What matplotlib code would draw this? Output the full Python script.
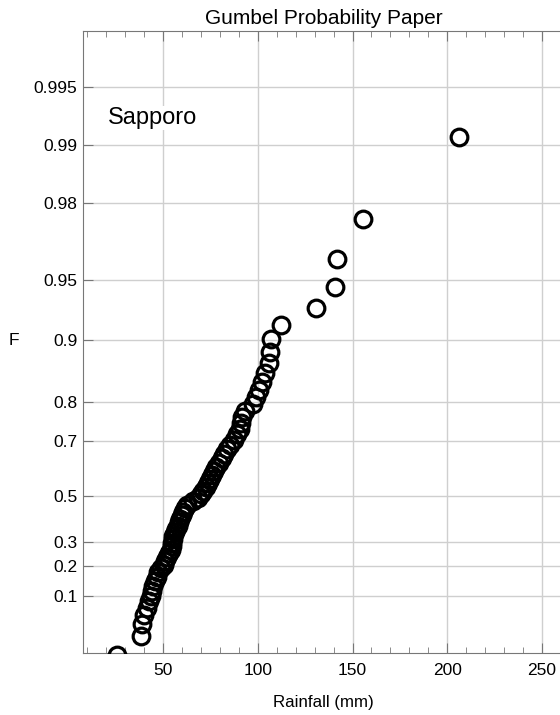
import numpy as np
import matplotlib
matplotlib.use("Agg")
import matplotlib.pyplot as plt
from matplotlib.ticker import MultipleLocator, FixedLocator

plt.rcParams['font.family'] = ['Liberation Sans', 'DejaVu Sans']

# annual maximum rainfall at Sapporo (mm), sorted
rainfall = [25.8, 38.2, 38.9, 40.0, 41.5, 42.7, 43.5, 44.1, 44.8, 45.9,
            46.8, 47.5, 48.9, 50.3, 51.3, 52.3, 53.2, 54.1, 54.6, 54.8,
            55.1, 55.4, 56.2, 57.1, 57.9, 58.5, 59.2, 59.8, 60.7, 61.6,
            62.6, 65.8, 68.7, 70.0, 71.2, 72.5, 73.6, 74.7, 75.7, 76.8,
            78.2, 79.5, 80.9, 82.4, 83.9, 85.5, 87.6, 89.2, 90.4, 91.2,
            91.7, 93.2, 97.4, 99.1, 100.8, 102.0, 103.7, 105.7, 106.3, 107.1,
            112.5, 130.5, 140.7, 141.7, 155.6, 206.3]
f_ticks = [0.1, 0.2, 0.3, 0.5, 0.7, 0.8, 0.9, 0.95, 0.98, 0.99, 0.995]
f_labels = ["0.1", "0.2", "0.3", "0.5", "0.7", "0.8", "0.9", "0.95", "0.98", "0.99", "0.995"]
x_ticks = [50, 100, 150, 200, 250]
station = "Sapporo"


def gumbel(f):
    f = np.clip(f, 1e-12, 1 - 1e-12)
    return -np.log(-np.log(f))


def gumbel_inv(y):
    return np.exp(-np.exp(-y))


# Cunnane plotting positions
x = np.sort(np.array(rainfall))
n = len(x)
F = (np.arange(1, n + 1) - 0.4) / (n + 0.2)

fig = plt.figure(figsize=(5.6, 7.15), dpi=100)
ax = fig.add_axes([83 / 560, 62 / 715, 478 / 560, 622 / 715])
ax.set_yscale('function', functions=(gumbel, gumbel_inv))

ax.plot(x, F, 'o', ms=12, mfc='none', mec='black', mew=2.3, clip_on=True, zorder=3)

ax.set_xlim(7.8, 260)
ax.set_ylim(0.0101, 0.99745)

ax.xaxis.set_major_locator(FixedLocator(x_ticks))
ax.xaxis.set_minor_locator(MultipleLocator(10))
ax.yaxis.set_major_locator(FixedLocator(f_ticks))
ax.yaxis.set_minor_locator(FixedLocator([]))
ax.set_yticklabels(f_labels)

ax.grid(True, which='major', color='#cfcfcf', lw=1)
ax.tick_params(axis='both', which='both', direction='in', colors='#777777',
               labelcolor='black', labelsize=12.5)
ax.tick_params(axis='x', which='major', length=7, top=True, pad=7)
ax.tick_params(axis='x', which='minor', length=4, top=True)
ax.tick_params(axis='y', which='major', length=7, pad=4)
for s in ['left', 'bottom', 'top']:
    ax.spines[s].set_color('#777777')
ax.spines['right'].set_visible(False)

ax.set_xlabel("Rainfall (mm)", fontsize=12.2)
ax.xaxis.set_label_coords(0.502, -0.067)
ax.set_ylabel("F", fontsize=12.5, rotation=0, va='center', ha='center')
ax.yaxis.set_label_coords(-0.144, 0.503)

fig.text(324 / 560, 1 - 18 / 715, "Gumbel Probability Paper", fontsize=15,
         ha='center', va='center')
ax.text(0.052, 0.86, station, transform=ax.transAxes, fontsize=17,
        ha='left', va='center', zorder=4,
        bbox=dict(facecolor='white', edgecolor='none', pad=1))

fig.savefig("out.png", dpi=100)
